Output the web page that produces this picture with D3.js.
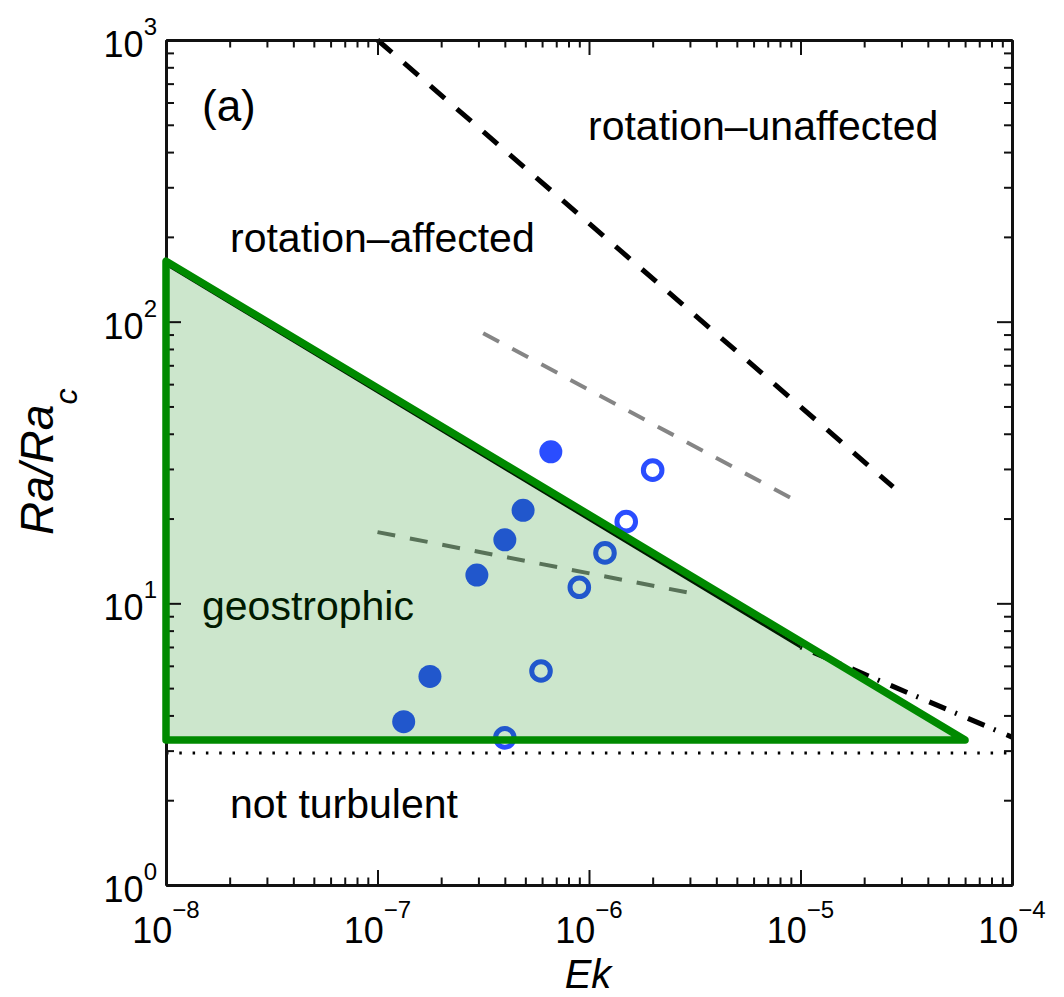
<!DOCTYPE html>
<html>
<head>
<meta charset="utf-8">
<script src="https://cdn.jsdelivr.net/npm/d3@7"></script>
<style>
  html, body { margin: 0; padding: 0; background: #fff; }
  svg { display: block; font-family: "Liberation Sans", Arial, Helvetica, sans-serif; }
</style>
</head>
<body>
<svg id="chart" width="1064" height="997"></svg>
<script>
// ---------- data ----------
const ekMajorTicks = [1e-8, 1e-7, 1e-6, 1e-5, 1e-4];
const ekTickExponents = ["\u22128", "\u22127", "\u22126", "\u22125", "\u22124"];
const raMajorTicks = [1, 10, 100, 1000];
const raTickExponents = ["0", "1", "2", "3"];

// filled symbols
const filledEk = [6.6e-7, 4.88e-7, 4.0e-7, 2.95e-7, 1.77e-7, 1.33e-7];
const filledRa = [34.5, 21.4, 16.8, 12.6, 5.5, 3.8];
// open symbols
const openEk = [2.0e-6, 1.5e-6, 1.19e-6, 9.0e-7, 5.93e-7, 4.0e-7];
const openRa = [29.7, 19.5, 15.1, 11.4, 5.75, 3.33];

// regime boundaries
const unaffectedEk = [1e-7, 2.74e-5];
const unaffectedRa = [1000, 25.9];
const grayUpperEk = [3.16e-7, 1e-5];
const grayUpperRa = [91, 22.7];
const grayLowerEk = [1e-7, 3.17e-6];
const grayLowerRa = [17.9, 10.8];
const blackSolidEk = [1e-8, 1e-5];
const blackSolidRa = [160, 7.0];
const blackDashDotEk = [1e-5, 1e-4];
const blackDashDotRa = [7.0, 3.35];
const onsetEk = [1e-8, 1e-4];
const onsetRa = [2.94, 2.94];
const geoEk = [1e-8, 1e-8, 6.0e-5];
const geoRa = [164, 3.27, 3.27];

// ---------- layout ----------
const L = 166, R = 1012, T = 40, B = 885;
const svg = d3.select("#chart");
const x = d3.scaleLog().domain([1e-8, 1e-4]).range([L, R]);
const y = d3.scaleLog().domain([1, 1000]).range([B, T]);

function minorOf(majors) {
  const out = [];
  for (let i = 0; i < majors.length - 1; i++)
    for (let k = 2; k <= 9; k++) out.push(majors[i] * k);
  return out;
}
const ekMinor = minorOf(ekMajorTicks);
const raMinor = minorOf(raMajorTicks);

const zip = (a, b) => a.map((v, i) => [v, b[i]]);
const line = d3.line().x(d => x(d[0])).y(d => y(d[1]));

// ---------- region labels (under the translucent fill) ----------
const labels = svg.append("g").attr("font-size", 41).attr("fill", "#000");
labels.append("text").attr("x", 202).attr("y", 121).attr("font-size", 44).text("(a)");
labels.append("text").attr("x", 588).attr("y", 140).text("rotation\u2013unaffected");
labels.append("text").attr("x", 230).attr("y", 252).text("rotation\u2013affected");
labels.append("text").attr("x", 202).attr("y", 620).text("geostrophic");
labels.append("text").attr("x", 230).attr("y", 818).text("not turbulent");

// ---------- lines ----------
const lines = svg.append("g").attr("fill", "none");
lines.append("path").datum(zip(unaffectedEk, unaffectedRa)).attr("d", line)
  .attr("stroke", "#000").attr("stroke-width", 5).attr("stroke-dasharray", "19 16");
lines.append("path").datum(zip(grayUpperEk, grayUpperRa)).attr("d", line)
  .attr("stroke", "#858585").attr("stroke-width", 4).attr("stroke-dasharray", "18 15");
lines.append("path").datum(zip(grayLowerEk, grayLowerRa)).attr("d", line)
  .attr("stroke", "#6f6f6f").attr("stroke-width", 4).attr("stroke-dasharray", "18 15");
lines.append("path").datum(zip(blackSolidEk, blackSolidRa)).attr("d", line)
  .attr("stroke", "#000").attr("stroke-width", 3);
lines.append("path").datum(zip(blackDashDotEk, blackDashDotRa)).attr("d", line)
  .attr("stroke", "#000").attr("stroke-width", 5).attr("stroke-dasharray", "2 12 18 10");
lines.append("path").datum(zip(onsetEk, onsetRa)).attr("d", line)
  .attr("stroke", "#000").attr("stroke-width", 3).attr("stroke-dasharray", "2.5 10.8");

// ---------- points ----------
const blue = "#2a4dff";
svg.append("g").selectAll("circle").data(zip(filledEk, filledRa)).join("circle")
  .attr("cx", d => x(d[0])).attr("cy", d => y(d[1])).attr("r", 11.5)
  .attr("fill", blue);
svg.append("g").selectAll("circle").data(zip(openEk, openRa)).join("circle")
  .attr("cx", d => x(d[0])).attr("cy", d => y(d[1])).attr("r", 9.3)
  .attr("fill", "none").attr("stroke", blue).attr("stroke-width", 5);

// ---------- geostrophic region ----------
const tri = zip(geoEk, geoRa);
svg.append("path").datum(tri).attr("d", d => line(d) + "Z")
  .attr("fill", "rgb(0,128,0)").attr("fill-opacity", 0.2).attr("stroke", "none");

// ---------- axes ----------
function styleAxis(g, width) {
  g.select(".domain").attr("stroke", "#111").attr("stroke-width", width);
  g.selectAll(".tick line").attr("stroke", "#111").attr("stroke-width", 2);
  g.selectAll(".tick text").remove();
}
const axes = svg.append("g");
[
  [d3.axisBottom(x).tickValues(ekMajorTicks).tickSize(-15), `translate(0,${B})`],
  [d3.axisBottom(x).tickValues(ekMinor).tickSize(-7.5), `translate(0,${B})`],
  [d3.axisTop(x).tickValues(ekMajorTicks).tickSize(-15), `translate(0,${T})`],
  [d3.axisTop(x).tickValues(ekMinor).tickSize(-7.5), `translate(0,${T})`],
  [d3.axisLeft(y).tickValues(raMajorTicks).tickSize(-15), `translate(${L},0)`],
  [d3.axisLeft(y).tickValues(raMinor).tickSize(-8), `translate(${L},0)`],
  [d3.axisRight(y).tickValues(raMajorTicks).tickSize(-15), `translate(${R},0)`],
  [d3.axisRight(y).tickValues(raMinor).tickSize(-8), `translate(${R},0)`]
].forEach(([ax, tr]) => {
  const g = axes.append("g").attr("transform", tr).call(ax.tickSizeOuter(0).tickFormat(() => ""));
  styleAxis(g, 3);
});

// outline of geostrophic region (on top)
svg.append("path").datum(tri).attr("d", d => line(d) + "Z")
  .attr("fill", "none").attr("stroke", "#008a00").attr("stroke-width", 7.5)
  .attr("stroke-linejoin", "round");

// tick labels
const xl = svg.append("g").attr("fill", "#000");
ekMajorTicks.forEach((v, i) => {
  const t = xl.append("text").attr("x", x(v)).attr("y", 943)
    .attr("text-anchor", "middle").attr("font-size", 36);
  t.append("tspan").text("10");
  t.append("tspan").attr("font-size", 24).attr("dy", -25).text(ekTickExponents[i]);
});
const yl = svg.append("g").attr("fill", "#000");
raMajorTicks.forEach((v, i) => {
  const t = yl.append("text").attr("x", L - 9).attr("y", y(v) + 17)
    .attr("text-anchor", "end").attr("font-size", 36);
  t.append("tspan").text("10");
  t.append("tspan").attr("font-size", 24).attr("dy", -22).text(raTickExponents[i]);
});

// axis titles
svg.append("text").attr("x", 588).attr("y", 988).attr("text-anchor", "middle")
  .attr("font-size", 40).attr("font-style", "italic").attr("fill", "#000").text("Ek");
const yt = svg.append("text").attr("transform", "translate(53,535) rotate(-90)")
  .attr("font-size", 46).attr("font-style", "italic").attr("fill", "#000");
yt.append("tspan").text("Ra/Ra");
yt.append("tspan").attr("font-size", 32).attr("dy", 24).text("c");
</script>
</body>
</html>
